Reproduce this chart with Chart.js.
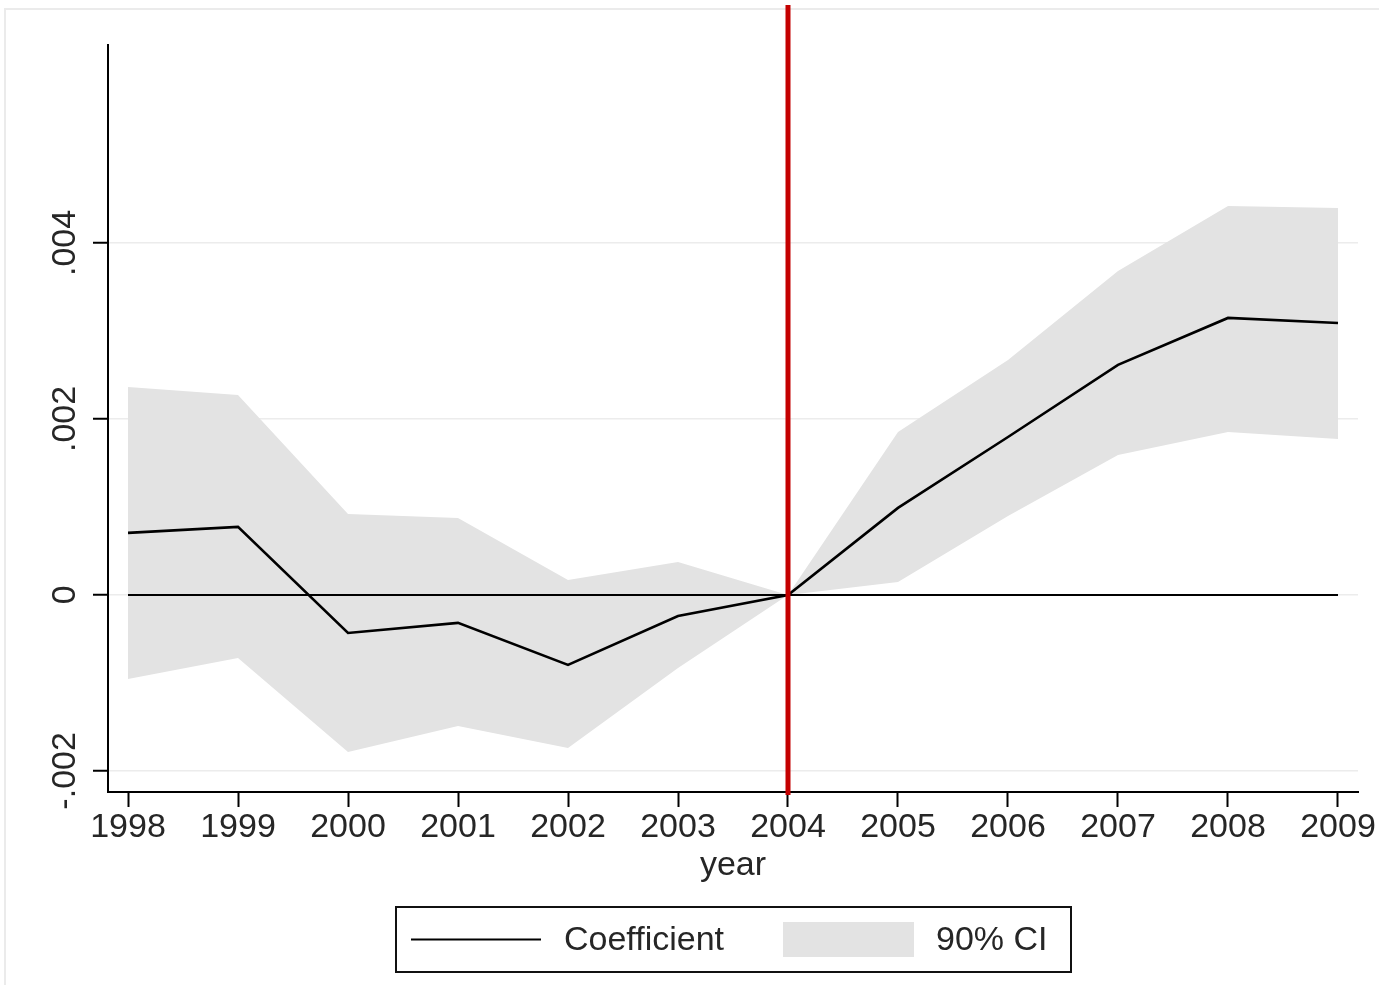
<!DOCTYPE html>
<html>
<head>
<meta charset="utf-8">
<script src="https://cdn.jsdelivr.net/npm/chart.js@4.4.1/dist/chart.umd.min.js"></script>
<style>
  html, body { margin: 0; padding: 0; background: #ffffff; }
  #wrap { width: 1379px; height: 985px; position: relative; }
</style>
</head>
<body>
<div id="wrap"><canvas id="c"></canvas></div>
<script>
// Event-study estimates by year, with 90% confidence bounds
const years = [1998, 1999, 2000, 2001, 2002, 2003, 2004, 2005, 2006, 2007, 2008, 2009];
const coefficient = [0.000705, 0.000773, -0.000432, -0.000318, -0.000795, -0.000239, 0, 0.000989, 0.001795, 0.002614, 0.003148, 0.003091];
const ciUpper = [0.002364, 0.002273, 0.00092, 0.000875, 0.00017, 0.000375, 0, 0.001852, 0.00267, 0.003682, 0.00442, 0.004398];
const ciLower = [-0.000955, -0.000716, -0.001784, -0.001489, -0.001739, -0.00083, 0, 0.000148, 0.000898, 0.001591, 0.001852, 0.001773];
const baseline = [0, 0, 0, 0, 0, 0, 0, 0, 0, 0, 0, 0];

const yTickValues = [-0.002, 0, 0.002, 0.004];
const yTickLabels = ['-.002', '0', '.002', '.004'];
const eventYear = 2004;
const xTitle = 'year';
const legendLabels = ['Coefficient', '90% CI'];

const FONT = '"Liberation Sans", Arial, Helvetica, sans-serif';
const TEXT = '#262626';
const BAND = '#e3e3e3';

const pts = arr => years.map((yr, i) => ({ x: yr, y: arr[i] }));

// Outer frame, rotated y labels, treatment-year line and boxed legend
const decor = {
  id: 'decor',
  beforeDraw(chart) {
    const ctx = chart.ctx;
    ctx.save();
    ctx.strokeStyle = '#ebebeb';
    ctx.lineWidth = 2;
    ctx.strokeRect(5, 9, chart.width + 10, chart.height + 10);
    ctx.restore();
  },
  afterDraw(chart) {
    const ctx = chart.ctx;
    const ys = chart.scales.y;
    const xs = chart.scales.x;
    const area = chart.chartArea;

    // y tick labels, reading bottom to top
    ctx.save();
    ctx.fillStyle = TEXT;
    ctx.font = '34px ' + FONT;
    ctx.textAlign = 'center';
    ctx.textBaseline = 'middle';
    ys.ticks.forEach(t => {
      const idx = yTickValues.indexOf(t.value);
      const py = ys.getPixelForValue(t.value);
      ctx.save();
      ctx.translate(66, py);
      ctx.rotate(-Math.PI / 2);
      ctx.fillText(yTickLabels[idx], 0, 0);
      ctx.restore();
    });
    ctx.restore();

    // vertical line at the treatment year
    const ex = xs.getPixelForValue(eventYear);
    ctx.save();
    ctx.strokeStyle = '#c40000';
    ctx.lineWidth = 5;
    ctx.beginPath();
    ctx.moveTo(ex, 5);
    ctx.lineTo(ex, area.bottom + 3);
    ctx.stroke();
    ctx.restore();

    // legend box
    const cx = (area.left + area.right) / 2;
    const bw = 675, bh = 65;
    const bx = Math.round(cx - bw / 2), by = 907;
    const my = by + bh / 2;
    ctx.save();
    ctx.strokeStyle = '#111111';
    ctx.lineWidth = 2;
    ctx.strokeRect(bx, by, bw, bh);
    ctx.strokeStyle = '#000000';
    ctx.lineWidth = 2;
    ctx.beginPath();
    ctx.moveTo(bx + 15, my);
    ctx.lineTo(bx + 145, my);
    ctx.stroke();
    ctx.fillStyle = TEXT;
    ctx.font = '34px ' + FONT;
    ctx.textAlign = 'left';
    ctx.textBaseline = 'middle';
    ctx.fillText(legendLabels[0], bx + 168, my + 1);
    ctx.fillStyle = BAND;
    ctx.fillRect(bx + 387, by + 15, 131, 35);
    ctx.fillStyle = TEXT;
    ctx.fillText(legendLabels[1], bx + 540, my + 1);
    ctx.restore();
  }
};

new Chart(document.getElementById('c'), {
  type: 'line',
  data: {
    datasets: [
      { label: 'Coefficient', data: pts(coefficient), borderColor: '#000000', borderWidth: 2.6, pointRadius: 0, fill: false, tension: 0 },
      { label: 'zero', data: pts(baseline), borderColor: '#000000', borderWidth: 2, pointRadius: 0, fill: false },
      { label: 'upper', data: pts(ciUpper), borderWidth: 0, borderColor: 'rgba(0,0,0,0)', backgroundColor: BAND, pointRadius: 0, fill: '+1' },
      { label: 'lower', data: pts(ciLower), borderWidth: 0, borderColor: 'rgba(0,0,0,0)', pointRadius: 0, fill: false }
    ]
  },
  options: {
    responsive: true,
    maintainAspectRatio: false,
    animation: false,
    events: [],
    layout: { padding: { left: 0, right: 21, top: 45, bottom: 99 } },
    plugins: { legend: { display: false }, tooltip: { enabled: false } },
    scales: {
      x: {
        type: 'linear',
        min: 1998 - 20 / 110,
        max: 2009 + 20 / 110,
        afterBuildTicks: s => { s.ticks = years.map(v => ({ value: v })); },
        afterFit: s => { s.height = 94; },
        ticks: {
          color: TEXT,
          font: { family: FONT, size: 34 },
          padding: 0,
          maxRotation: 0,
          minRotation: 0,
          callback: v => String(v)
        },
        grid: { drawOnChartArea: false, drawTicks: true, tickLength: 15, tickColor: '#000000', tickWidth: 2 },
        border: { display: true, color: '#000000', width: 2 },
        title: { display: true, text: xTitle, color: TEXT, font: { family: FONT, size: 34 }, padding: { top: 0, bottom: 0 } }
      },
      y: {
        type: 'linear',
        min: -0.00224,
        max: 0.00625,
        afterBuildTicks: s => { s.ticks = yTickValues.map(v => ({ value: v })); },
        afterFit: s => { s.width = 108; },
        ticks: { display: false },
        grid: { color: '#ececec', lineWidth: 1.5, drawTicks: true, tickLength: 15, tickColor: '#000000', tickWidth: 2 },
        border: { display: true, color: '#000000', width: 2 }
      }
    }
  },
  plugins: [decor]
});
</script>
</body>
</html>
